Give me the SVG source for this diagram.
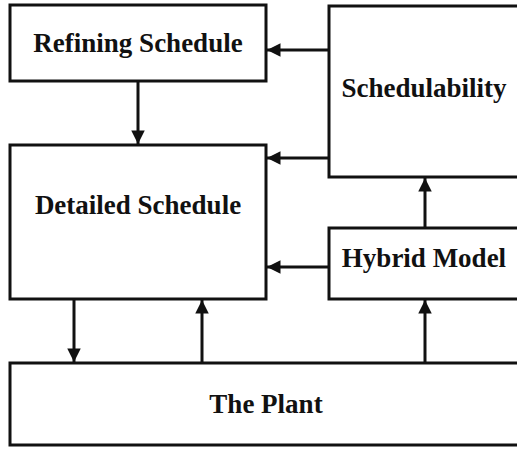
<svg xmlns="http://www.w3.org/2000/svg" width="517" height="449" viewBox="0 0 517 449">
<defs>
<style>
.box{fill:#fff;stroke:#111;stroke-width:3}
.lbl{font-family:"Liberation Serif","Times New Roman",serif;font-weight:bold;font-size:27px;fill:#111;text-anchor:middle}
.c{stroke:#111;stroke-width:3;fill:none;marker-end:url(#ah)}
</style>
<marker id="ah" viewBox="0 0 10 10" refX="10" refY="5" markerWidth="5" markerHeight="4.5" markerUnits="strokeWidth" orient="auto">
<path d="M0,0 L10,5 L0,10 Z" fill="#111"/>
</marker>
</defs>
<rect width="517" height="449" fill="#fff"/>
<g id="refining"><rect class="box" x="10" y="5" width="256" height="76"/><text class="lbl" x="138" y="52">Refining Schedule</text></g>
<g id="schedulability"><rect class="box" x="329" y="6" width="195" height="171"/><text class="lbl" x="424" y="97">Schedulability</text></g>
<g id="detailed"><rect class="box" x="10" y="145" width="256" height="154"/><text class="lbl" x="138" y="214">Detailed Schedule</text></g>
<g id="hybrid"><rect class="box" x="329" y="228" width="195" height="71"/><text class="lbl" x="424" y="267">Hybrid Model</text></g>
<g id="plant"><rect class="box" x="10" y="363" width="514" height="82"/><text class="lbl" x="266" y="413">The Plant</text></g>
<g id="connectors">
<line class="c" x1="329" y1="50" x2="267" y2="50"/>
<line class="c" x1="138" y1="81" x2="138" y2="144"/>
<line class="c" x1="329" y1="158" x2="267" y2="158"/>
<line class="c" x1="329" y1="267" x2="267" y2="267"/>
<line class="c" x1="425" y1="228" x2="425" y2="178"/>
<line class="c" x1="74" y1="299" x2="74" y2="362"/>
<line class="c" x1="202" y1="363" x2="202" y2="300"/>
<line class="c" x1="425" y1="363" x2="425" y2="300"/>
</g>
</svg>
